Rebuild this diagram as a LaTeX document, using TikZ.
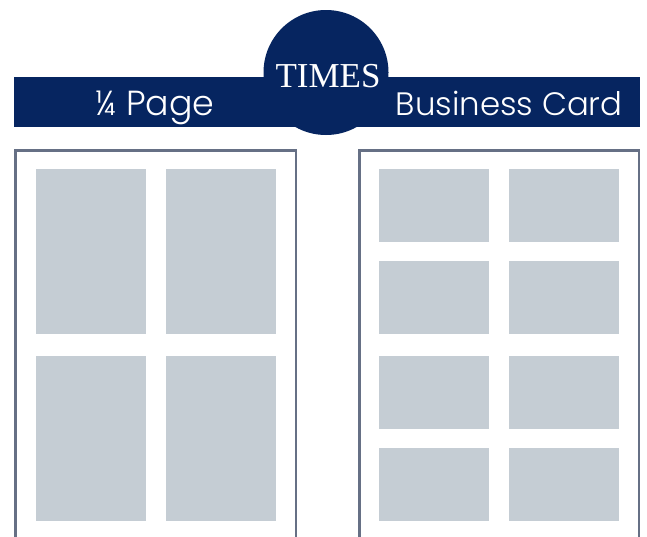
\documentclass[tikz,border=0pt]{standalone}
\usepackage{fontspec}
\setmainfont{Liberation Serif}
\newfontfamily\lblfont{Poppins}[UprightFont=* Light]
\definecolor{navy}{HTML}{062560}
\definecolor{framec}{HTML}{667085}
\definecolor{cell}{HTML}{C5CDD4}
\tikzset{
  navyfill/.style={fill=navy,draw=none},
  frameline/.style={draw=framec,line width=2.5pt},
  cellbox/.style={fill=cell,draw=none},
  lbl/.style={text=white,inner sep=0pt,anchor=base west},
  logo/.style={text=white,inner sep=0pt,anchor=base,font=\fontsize{35}{35}\selectfont}
}
\begin{document}
\begin{tikzpicture}[x=1pt,y=-1pt]
\useasboundingbox (0,0) rectangle (647,536);
\fill[white] (0,0) rectangle (647,536);
\fill[navyfill] (14,77) rectangle (640,127);
\fill[navyfill] (326,72.5) circle[radius=62.5];
\node[logo] (times) at (328,87) {TIMES};
\node[lbl,font=\lblfont\fontsize{34.8}{35}\selectfont] (quarter) at (95.5,115) {¼ Page};
\node[lbl,font=\lblfont\fontsize{32.4}{33}\selectfont] (bcard) at (395.5,115) {Business Card};
\clip (0,0) rectangle (647,536);
\draw[frameline] (15.25,545) -- (15.25,150.25) -- (295.75,150.25) -- (295.75,545);
\draw[frameline] (359.25,545) -- (359.25,150.25) -- (638.75,150.25) -- (638.75,545);
\foreach \x in {36,166}{
  \foreach \y in {169,356}{
    \fill[cellbox] (\x,\y) rectangle ++(110,165);
  }
}
\foreach \x in {379,509}{
  \foreach \y in {169,261,356,448}{
    \fill[cellbox] (\x,\y) rectangle ++(110,73);
  }
}
\end{tikzpicture}
\end{document}
